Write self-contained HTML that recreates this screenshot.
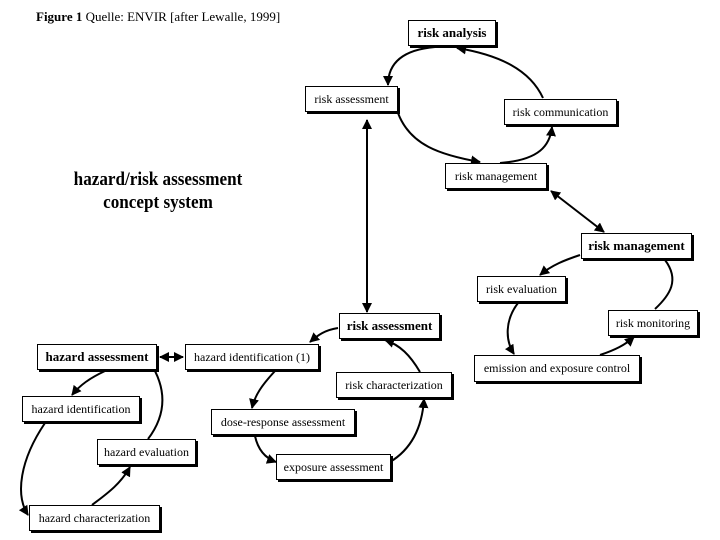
<!DOCTYPE html>
<html><head><meta charset="utf-8"><style>
body{margin:0;width:720px;height:540px;background:#fff;position:relative;overflow:hidden;font-family:"Liberation Serif",serif;color:#000}
.b{position:absolute;border:1px solid #000;box-shadow:2px 2px 0 #000;background:#fff;font-size:12px;display:flex;align-items:center;justify-content:center;box-sizing:border-box;white-space:nowrap}
.bd{font-weight:bold;font-size:13px}
svg{position:absolute;left:0;top:0}
</style></head><body>
<div style="position:absolute;left:36px;top:9px;font-size:13px"><b>Figure 1</b> Quelle: ENVIR [after Lewalle, 1999]</div>
<div style="position:absolute;left:40px;top:168px;width:236px;text-align:center;font-weight:bold;font-size:19px;line-height:23px;transform:scaleX(0.9)">hazard/risk assessment<br>concept system</div>
<svg width="720" height="540" viewBox="0 0 720 540">
<defs><marker id="a" viewBox="0 0 10 10" refX="9" refY="5" markerWidth="5" markerHeight="5" orient="auto-start-reverse"><path d="M0,0L10,5L0,10z" fill="#000"/></marker></defs>
<g fill="none" stroke="#000" stroke-width="2" marker-end="url(#a)">
<path d="M435,47 C400,50 388,65 388,85"/>
<path d="M543,98 C530,70 500,55 457,48"/>
<path d="M398,113 C410,145 440,155 480,162"/>
<path d="M500,163 C540,160 550,145 552,127"/>
<path d="M367,120 L367,312" marker-start="url(#a)"/>
<path d="M551,191 L604,232" marker-start="url(#a)"/>
<path d="M580,255 C565,260 552,265 540,275"/>
<path d="M518,303 C505,320 505,340 514,354"/>
<path d="M600,355 C615,350 625,345 634,337"/>
<path d="M420,372 C410,355 400,345 385,340"/>
<path d="M338,328 C325,330 318,335 310,342"/>
<path d="M275,371 C262,385 255,395 252,408"/>
<path d="M255,436 C258,450 265,458 276,462"/>
<path d="M390,462 C410,450 422,430 424,399"/>
<path d="M160,357 L183,357" marker-start="url(#a)"/>
<path d="M105,371 C90,378 80,385 72,395"/>
<path d="M45,423 C20,460 15,495 28,515"/>
<path d="M92,505 C105,495 120,485 130,467"/>
</g>
<path d="M148,439 C170,410 162,385 155,371" fill="none" stroke="#000" stroke-width="2"/>
<path d="M665,260 C680,280 670,295 655,309" fill="none" stroke="#000" stroke-width="2"/>
</svg>
<div class="b bd" style="left:408px;top:20px;width:88px;height:26px">risk analysis</div>
<div class="b" style="left:305px;top:86px;width:93px;height:26px">risk assessment</div>
<div class="b" style="left:504px;top:99px;width:113px;height:26px">risk communication</div>
<div class="b" style="left:445px;top:163px;width:102px;height:26px">risk management</div>
<div class="b bd" style="left:581px;top:233px;width:111px;height:26px">risk management</div>
<div class="b" style="left:477px;top:276px;width:89px;height:26px">risk evaluation</div>
<div class="b" style="left:608px;top:310px;width:90px;height:26px">risk monitoring</div>
<div class="b" style="left:474px;top:355px;width:166px;height:27px">emission and exposure control</div>
<div class="b bd" style="left:339px;top:313px;width:101px;height:26px">risk assessment</div>
<div class="b" style="left:336px;top:372px;width:116px;height:26px">risk characterization</div>
<div class="b" style="left:185px;top:344px;width:134px;height:26px">hazard identification (1)</div>
<div class="b bd" style="left:37px;top:344px;width:120px;height:26px">hazard assessment</div>
<div class="b" style="left:22px;top:396px;width:118px;height:26px">hazard identification</div>
<div class="b" style="left:211px;top:409px;width:144px;height:26px">dose-response assessment</div>
<div class="b" style="left:97px;top:439px;width:99px;height:26px">hazard evaluation</div>
<div class="b" style="left:276px;top:454px;width:115px;height:26px">exposure assessment</div>
<div class="b" style="left:29px;top:505px;width:131px;height:26px">hazard characterization</div>
</body></html>
